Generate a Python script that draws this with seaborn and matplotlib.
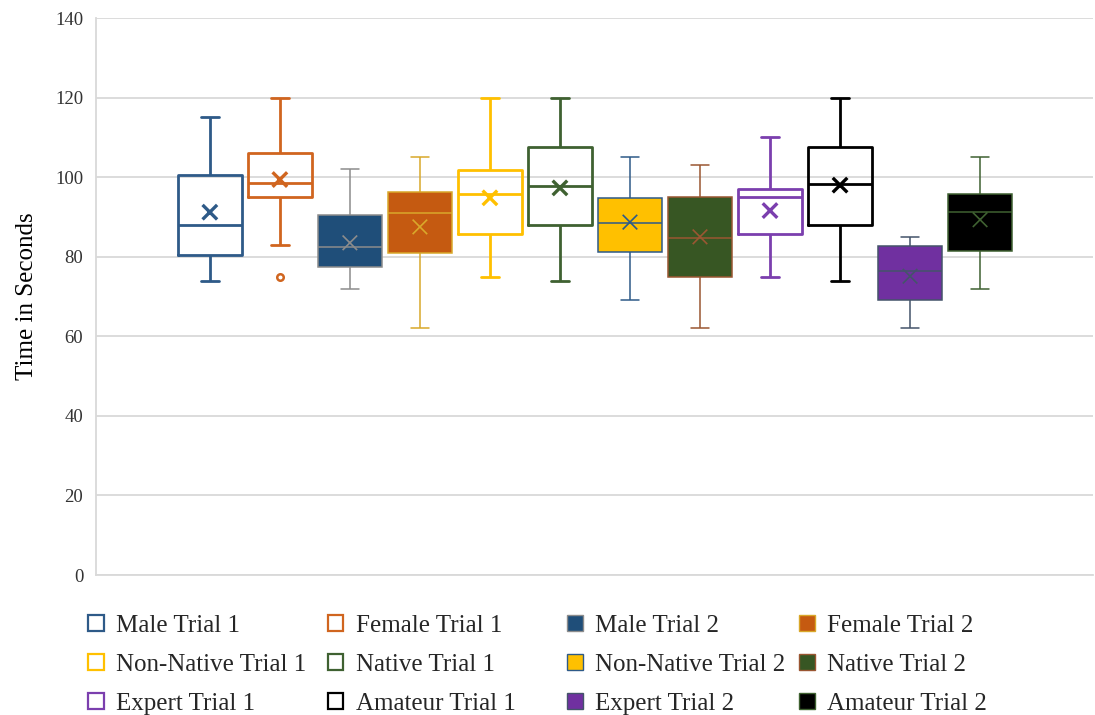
import numpy as np
import pandas as pd
import seaborn as sns
from matplotlib import pyplot as plt
from matplotlib.patches import Patch

# Data (seconds)
groups = ["Male Trial 1", "Female Trial 1", "Male Trial 2", "Female Trial 2",
          "Non-Native Trial 1", "Native Trial 1", "Non-Native Trial 2", "Native Trial 2",
          "Expert Trial 1", "Amateur Trial 1", "Expert Trial 2", "Amateur Trial 2"]
whisker_low = [74, 83, 72, 62, 75, 74, 69, 62, 75, 74, 62, 72]
q1 = [80.5, 95, 77.3, 81, 85.6, 88, 81.2, 75, 85.6, 88, 69, 81.5]
median = [88, 98.5, 82.5, 91, 95.7, 97.8, 88.5, 84.7, 95.1, 98.3, 76.5, 91.3]
q3 = [100.5, 106, 90.5, 96.3, 101.8, 107.6, 94.8, 95, 96.9, 107.5, 82.8, 95.8]
whisker_high = [115, 120, 102, 105, 120, 120, 105, 103, 110, 120, 85, 105]
means = [91.2, 99.4, 83.5, 87.5, 94.8, 97.3, 88.7, 85, 91.6, 98, 75.1, 89.3]
outlier_group = ["Female Trial 1"]
outlier_value = [75]

# Styling: trial 2 boxes are filled, trial 1 boxes are outlines
is_filled = [False, False, True, True, False, False, True, True, False, False, True, True]
face_colors = ["white", "white", "#1F4E79", "#C55A11",
               "white", "white", "#FFC000", "#375623",
               "white", "white", "#7030A0", "#000000"]
line_colors = ["#2E5A88", "#D0651F", "#8C8C8C", "#D9A82A",
               "#FFC000", "#3F6131", "#2E5A88", "#9A5632",
               "#7B3FAE", "#000000", "#44546A", "#3F6131"]

# Five-number summary per group -> long table
df = pd.DataFrame({
    "group": np.repeat(groups, 5),
    "seconds": np.column_stack([whisker_low, q1, median, q3, whisker_high]).ravel(),
})

sns.set_theme(style="white")
plt.rcParams["font.family"] = ["Liberation Serif", "DejaVu Serif"]

fig = plt.figure(figsize=(10.95, 7.15), dpi=100)
ax = fig.add_axes([0.0874, 0.1958, 0.9106, 0.779])

for i, g in enumerate(groups):
    sub = df[df["group"] == g]
    if is_filled[i]:
        sns.boxplot(data=sub, x="group", y="seconds", order=groups, fill=True,
                    color=face_colors[i], linecolor=line_colors[i], linewidth=1.1,
                    width=0.92, whis=(0, 100), showfliers=False, saturation=1,
                    capwidths=0.26, ax=ax)
    else:
        sns.boxplot(data=sub, x="group", y="seconds", order=groups, fill=False,
                    color=line_colors[i], linewidth=2.0,
                    width=0.92, whis=(0, 100), showfliers=False, saturation=1,
                    capwidths=0.26, ax=ax)

# Mean markers
mean_df = pd.DataFrame({"group": groups, "mean": means, "filled": is_filled})
palette = dict(zip(groups, line_colors))
for filled_flag, lw in [(False, 2.4), (True, 1.2)]:
    sub = mean_df[mean_df["filled"] == filled_flag]
    sns.scatterplot(data=sub, x="group", y="mean", hue="group", palette=palette,
                    marker="x", s=110, linewidth=lw, legend=False, zorder=5, ax=ax)

# Outlier
sns.scatterplot(x=outlier_group, y=outlier_value, marker="o", s=22,
                facecolor="white", edgecolor=line_colors[1], linewidth=1.8,
                zorder=5, ax=ax)

ax.set_xlim(-1.63, 12.61)
ax.set_ylim(0, 140)
ax.set_yticks(np.arange(0, 141, 20))
ax.set_xticks([])
ax.set_xlabel("")
ax.set_ylabel("Time in Seconds", fontsize=18, color="black")
ax.yaxis.set_label_coords(-0.058, 0.5)
ax.tick_params(axis="y", length=0, pad=9, labelsize=13.5, labelcolor="#333333")
ax.yaxis.grid(True, color="#D9D9D9", linewidth=1.3)
ax.set_axisbelow(True)
for side in ["top", "right"]:
    ax.spines[side].set_visible(False)
for side in ["left", "bottom"]:
    ax.spines[side].set_color("#D9D9D9")
    ax.spines[side].set_linewidth(1.3)

# Legend: four columns laid out row by row
col_x = [88, 328, 567, 799]
for c in range(4):
    handles = []
    for r in range(3):
        i = r * 4 + c
        handles.append(Patch(facecolor=face_colors[i], edgecolor=line_colors[i],
                             linewidth=1.6 if not is_filled[i] else 1.0, label=groups[i]))
    fig.legend(handles=handles, loc="upper left",
               bbox_to_anchor=(col_x[c] / 1095, 1 - 615 / 715),
               frameon=False, fontsize=18, handlelength=0.62, handleheight=0.62,
               handletextpad=0.5, labelspacing=0.68, borderpad=0, borderaxespad=0)

fig.savefig("out.png", dpi=100)
